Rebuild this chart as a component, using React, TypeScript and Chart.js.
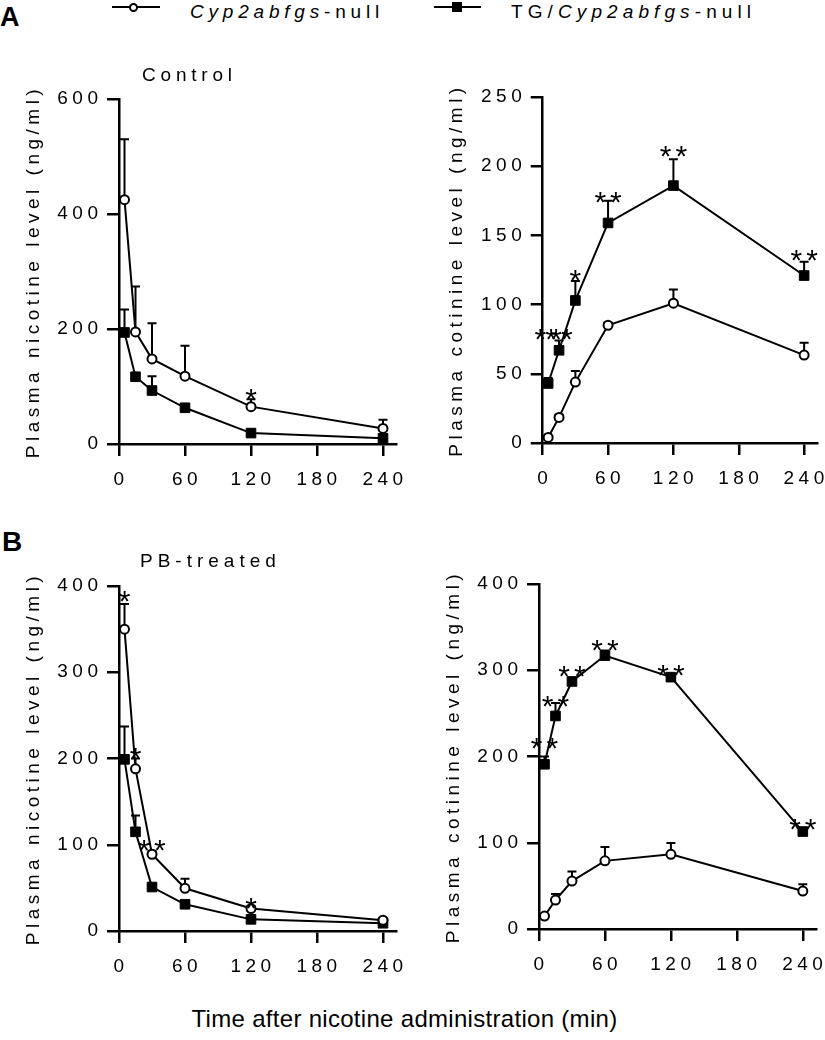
import React, { useEffect, useRef } from 'react';
import { Chart, registerables } from 'chart.js';

Chart.register(...registerables);

const FONT = '"Liberation Sans", Arial, Helvetica, sans-serif';

// ---------- shared ----------
const times = [5, 15, 30, 60, 120, 240];
const xTickValues = [0, 60, 120, 180, 240];
const xMax = 252;
const nullLabel = 'Cyp2abfgs-null';
const tgLabel = 'TG/Cyp2abfgs-null';
const xTitle = 'Time after nicotine administration (min)';
const nicotineTitle = 'Plasma nicotine level (ng/ml)';
const cotinineTitle = 'Plasma cotinine level (ng/ml)';

// ---------- A: Control, nicotine ----------
const aNicNullMean = [425, 195, 148, 118, 65, 27];
const aNicNullErr = [105, 79, 62, 53, 13, 15];
const aNicTgMean = [194, 117, 93, 63, 19, 10];
const aNicTgErr = [40, 4, 25, 0, 0, 0];
const aNicStars = ['', '', '', '', '*', ''];
const aNicStarLevels = [0, 0, 0, 0, 82, 0];
const aNicYTicks = [0, 200, 400, 600];

// ---------- A: Control, cotinine ----------
const aCotNullMean = [4, 18.5, 44, 85, 101, 63.5];
const aCotNullErr = [1, 2, 8, 2, 10, 9];
const aCotTgMean = [43, 67, 103, 159, 186, 121];
const aCotTgErr = [4, 7, 14, 16, 19, 10];
const aCotStars = ['**', '**', '*', '**', '**', '**'];
const aCotStarLevels = [77, 77, 120, 176, 209, 134];
const aCotYTicks = [0, 50, 100, 150, 200, 250];

// ---------- B: PB-treated, nicotine ----------
const bNicNullMean = [350, 188, 89, 49.5, 26, 12.5];
const bNicNullErr = [29, 12, 4, 11, 3, 2];
const bNicTgMean = [199, 115, 51, 31, 13.5, 9];
const bNicTgErr = [38, 19, 3, 2, 2, 1];
const bNicStars = ['*', '*', '**', '', '*', ''];
const bNicStarLevels = [386, 204, 97, 0, 30, 0];
const bNicYTicks = [0, 100, 200, 300, 400];

// ---------- B: PB-treated, cotinine ----------
const bCotNullMean = [15, 33.6, 55.6, 79, 86.6, 44];
const bCotNullErr = [2, 7, 11, 16, 13, 8];
const bCotTgMean = [191, 247, 287, 317, 292, 113];
const bCotTgErr = [9, 15, 4, 6, 3, 3];
const bCotStars = ['**', '**', '**', '**', '**', '**'];
const bCotStarLevels = [213, 262, 296, 326, 298, 119];
const bCotYTicks = [0, 100, 200, 300, 400];

type Series = { mean: number[]; err: number[] };
type PanelSpec = {
  left: number; top: number; width: number; height: number;
  area: { l: number; t: number; r: number; b: number };
  yMax: number; yTicks: number[]; yTitle: string; titlePad: number;
  nullS: Series; tgS: Series; stars: string[]; starLevels: number[];
};

const XH = 50;

function overlay(p: PanelSpec) {
  return {
    id: 'overlay',
    beforeDraw(chart: any) {
      chart.ctx.letterSpacing = '4.5px';
    },
    beforeDatasetsDraw(chart: any) {
      const { ctx } = chart;
      const x = chart.scales.x;
      const y = chart.scales.y;
      ctx.save();
      ctx.strokeStyle = '#000';
      ctx.lineWidth = 2;
      [p.nullS, p.tgS].forEach((s) => {
        times.forEach((t, i) => {
          const e = s.err[i];
          if (!e) return;
          const px = x.getPixelForValue(t);
          const y0 = y.getPixelForValue(s.mean[i]);
          const y1 = y.getPixelForValue(s.mean[i] + e);
          ctx.beginPath();
          ctx.moveTo(px, y0);
          ctx.lineTo(px, y1);
          ctx.moveTo(px - 4.5, y1);
          ctx.lineTo(px + 4.5, y1);
          ctx.stroke();
        });
      });
      ctx.restore();
    },
    afterDatasetsDraw(chart: any) {
      const { ctx } = chart;
      const x = chart.scales.x;
      const y = chart.scales.y;
      ctx.save();
      ctx.fillStyle = '#000';
      ctx.font = `30px ${FONT}`;
      ctx.letterSpacing = '4px';
      ctx.textAlign = 'center';
      ctx.textBaseline = 'alphabetic';
      p.stars.forEach((st, i) => {
        if (!st) return;
        const px = x.getPixelForValue(times[i]);
        const py = y.getPixelForValue(p.starLevels[i]) + 12.6;
        ctx.fillText(st, px + 2, py);
      });
      ctx.restore();
    },
  };
}

function Panel({ p }: { p: PanelSpec }) {
  const ref = useRef<HTMLCanvasElement>(null);
  useEffect(() => {
    const canvas = ref.current!;
    const yw = p.area.l - p.left;
    const padTop = p.area.t - p.top;
    const padRight = p.left + p.width - p.area.r;
    const padBottom = p.top + p.height - p.area.b - XH;
    const tickFont = { family: FONT, size: 19 };
    const chart = new Chart(canvas, {
      type: 'line',
      data: {
        datasets: [
          {
            label: nullLabel,
            data: times.map((t, i) => ({ x: t, y: p.nullS.mean[i] })),
            borderColor: '#000',
            borderWidth: 2,
            pointStyle: 'circle',
            pointRadius: 4.5,
            pointBorderWidth: 2,
            pointBackgroundColor: '#fff',
            pointBorderColor: '#000',
            backgroundColor: '#fff',
            tension: 0,
            clip: false as any,
          },
          {
            label: tgLabel,
            data: times.map((t, i) => ({ x: t, y: p.tgS.mean[i] })),
            borderColor: '#000',
            borderWidth: 2,
            pointStyle: 'rect',
            pointRadius: 6.8,
            pointBorderWidth: 1,
            pointBackgroundColor: '#000',
            pointBorderColor: '#000',
            backgroundColor: '#000',
            tension: 0,
            clip: false as any,
          },
        ],
      },
      options: {
        animation: false,
        responsive: false,
        maintainAspectRatio: false,
        layout: { padding: { top: padTop, right: padRight, bottom: padBottom, left: 0 } },
        plugins: { legend: { display: false }, tooltip: { enabled: false }, title: { display: false } },
        scales: {
          x: {
            type: 'linear',
            min: 0,
            max: xMax,
            afterBuildTicks: (s: any) => {
              s.ticks = xTickValues.map((v) => ({ value: v }));
            },
            afterFit: (s: any) => {
              s.height = XH;
              s.paddingLeft = 0;
              s.paddingRight = 0;
            },
            ticks: {
              color: '#000',
              font: tickFont,
              padding: 12,
              labelOffset: 2,
              maxRotation: 0,
              autoSkip: false,
              callback: (v: any) => String(v),
            },
            grid: { drawOnChartArea: false, drawTicks: true, tickLength: 12, color: '#000', lineWidth: 2.5 },
            border: { display: true, color: '#000', width: 2.5 },
          },
          y: {
            type: 'linear',
            min: 0,
            max: p.yMax,
            afterBuildTicks: (s: any) => {
              s.ticks = p.yTicks.map((v) => ({ value: v }));
            },
            afterFit: (s: any) => {
              s.width = yw;
              s.paddingTop = 0;
              s.paddingBottom = 0;
              s.paddingLeft = 0;
              s.paddingRight = 0;
            },
            title: {
              display: true,
              text: p.yTitle,
              color: '#000',
              font: { family: FONT, size: 19 },
              padding: { top: p.titlePad, bottom: 0 },
            },
            ticks: {
              color: '#000',
              font: tickFont,
              padding: 4.5,
              autoSkip: false,
              callback: (v: any) => String(v),
            },
            grid: { drawOnChartArea: false, drawTicks: true, tickLength: 12, color: '#000', lineWidth: 2.5 },
            border: { display: true, color: '#000', width: 2.5 },
          },
        },
      } as any,
      plugins: [overlay(p)],
    });
    return () => chart.destroy();
  }, [p]);
  return (
    <canvas
      ref={ref}
      width={p.width}
      height={p.height}
      style={{ position: 'absolute', left: p.left, top: p.top, width: p.width, height: p.height }}
    />
  );
}

const panels: PanelSpec[] = [
  {
    left: 0, top: 60, width: 416, height: 440,
    area: { l: 119, t: 99, r: 396.2, b: 444 },
    yMax: 600, yTicks: aNicYTicks, yTitle: nicotineTitle, titlePad: 22,
    nullS: { mean: aNicNullMean, err: aNicNullErr }, tgS: { mean: aNicTgMean, err: aNicTgErr },
    stars: aNicStars, starLevels: aNicStarLevels,
  },
  {
    left: 420, top: 60, width: 405, height: 440,
    area: { l: 542.7, t: 97, r: 819.9, b: 443 },
    yMax: 250, yTicks: aCotYTicks, yTitle: cotinineTitle, titlePad: 25,
    nullS: { mean: aCotNullMean, err: aCotNullErr }, tgS: { mean: aCotTgMean, err: aCotTgErr },
    stars: aCotStars, starLevels: aCotStarLevels,
  },
  {
    left: 0, top: 570, width: 416, height: 420,
    area: { l: 119, t: 586, r: 396.2, b: 931 },
    yMax: 400, yTicks: bNicYTicks, yTitle: nicotineTitle, titlePad: 22,
    nullS: { mean: bNicNullMean, err: bNicNullErr }, tgS: { mean: bNicTgMean, err: bNicTgErr },
    stars: bNicStars, starLevels: bNicStarLevels,
  },
  {
    left: 420, top: 570, width: 405, height: 420,
    area: { l: 539, t: 584, r: 816, b: 929 },
    yMax: 400, yTicks: bCotYTicks, yTitle: cotinineTitle, titlePad: 22,
    nullS: { mean: bCotNullMean, err: bCotNullErr }, tgS: { mean: bCotTgMean, err: bCotTgErr },
    stars: bCotStars, starLevels: bCotStarLevels,
  },
];

function Txt(props: { left: number; top: number; size: number; ls?: number; bold?: boolean; children: React.ReactNode; center?: boolean }) {
  return (
    <div
      style={{
        position: 'absolute',
        left: props.left,
        top: props.top,
        fontFamily: FONT,
        fontSize: props.size,
        lineHeight: `${props.size}px`,
        letterSpacing: props.ls ? `${props.ls}px` : undefined,
        fontWeight: props.bold ? 'bold' : 'normal',
        whiteSpace: 'nowrap',
        color: '#000',
        transform: props.center ? 'translateX(-50%)' : undefined,
      }}
    >
      {props.children}
    </div>
  );
}

export default function App() {
  return (
    <div style={{ position: 'absolute', left: 0, top: 0, width: 825, height: 1040, background: '#fff', overflow: 'hidden' }}>
      {panels.map((p, i) => (
        <Panel key={i} p={p} />
      ))}
      {/* legend */}
      <div style={{ position: 'absolute', left: 112, top: 6, width: 48, height: 2, background: '#000' }} />
      <div
        style={{
          position: 'absolute', left: 128.5, top: 2.5, width: 9, height: 9, boxSizing: 'border-box',
          border: '2px solid #000', borderRadius: '50%', background: '#fff',
        }}
      />
      <Txt left={190} top={2} size={19} ls={4.8}>
        <i>Cyp2abfgs</i>-null
      </Txt>
      <div style={{ position: 'absolute', left: 434, top: 6, width: 47, height: 2, background: '#000' }} />
      <div style={{ position: 'absolute', left: 452, top: 2, width: 10, height: 10, background: '#000' }} />
      <Txt left={511} top={2} size={19} ls={5.1}>
        TG/<i>Cyp2abfgs</i>-null
      </Txt>
      {/* panel letters and titles */}
      <Txt left={0} top={3.5} size={27} bold>A</Txt>
      <Txt left={2} top={528.4} size={28} bold>B</Txt>
      <Txt left={142} top={64.5} size={19} ls={4.8}>Control</Txt>
      <Txt left={140} top={550.5} size={19} ls={5}>PB-treated</Txt>
      <Txt left={404.5} top={1006.5} size={24} ls={0.3} center>{xTitle}</Txt>
    </div>
  );
}
